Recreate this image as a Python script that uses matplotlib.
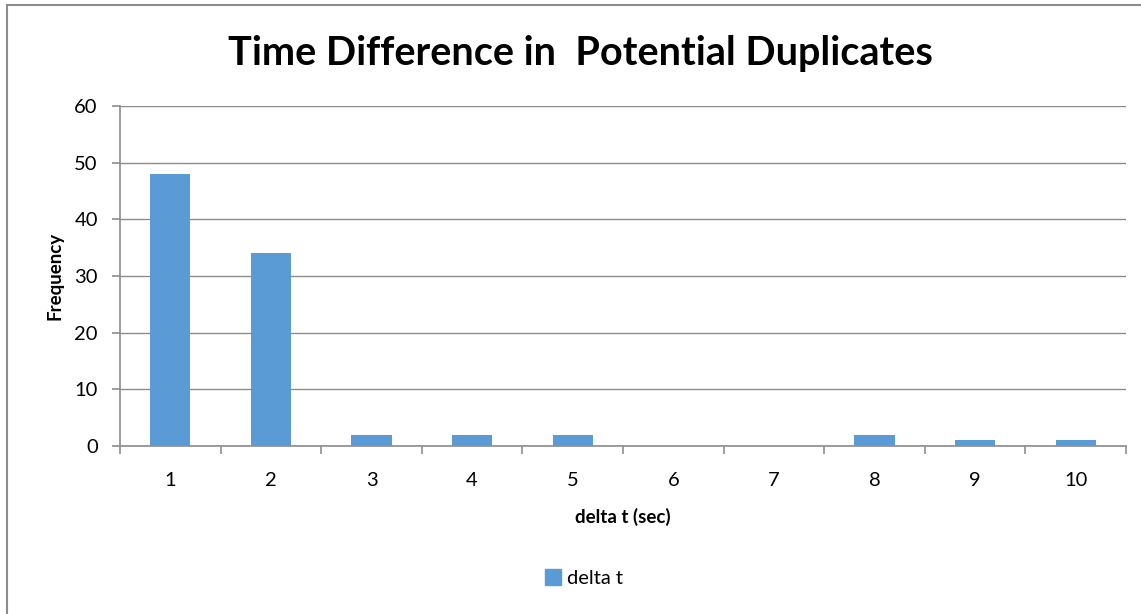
import numpy as np
import matplotlib.pyplot as plt
from matplotlib.patches import Rectangle

plt.rcParams['font.family'] = ['Lato', 'DejaVu Sans']

categories = [1, 2, 3, 4, 5, 6, 7, 8, 9, 10]
frequency = [48, 34, 2, 2, 2, 0, 0, 2, 1, 1]
yticks = [0, 10, 20, 30, 40, 50, 60]

bar_color = '#5B9BD5'
grid_color = '#8C8C8C'

fig = plt.figure(figsize=(11.41, 6.14), dpi=100)
ax = fig.add_axes([0.1052, 0.2736, 0.8817, 0.5538])

x = np.arange(len(categories))
ax.bar(x, frequency, width=0.4, color=bar_color, zorder=3)

ax.set_xlim(-0.5, len(categories) - 0.5)
ax.set_ylim(0, 60)
ax.set_yticks(yticks)
ax.yaxis.grid(True, color=grid_color, linewidth=1.0, zorder=0)

ax.set_xticks(x)
ax.set_xticklabels([str(c) for c in categories])
ax.set_xticks(np.arange(len(categories) + 1) - 0.5, minor=True)
ax.tick_params(axis='x', which='major', length=0, pad=19, labelsize=14.5)
ax.tick_params(axis='x', which='minor', length=6, width=1.2, color=grid_color)
ax.tick_params(axis='y', length=6, width=1.2, color=grid_color, pad=10, labelsize=14.5)

for side in ['top', 'right']:
    ax.spines[side].set_visible(False)
for side in ['left', 'bottom']:
    ax.spines[side].set_color(grid_color)
    ax.spines[side].set_linewidth(1.2)

fig.text(580 / 1141, 1 - 53 / 614, 'Time Difference in  Potential Duplicates',
         fontsize=28.5, fontweight='bold', ha='center', va='center')
ax.set_xlabel('delta t (sec)', fontsize=13.5, fontweight='bold', labelpad=13)
ax.set_ylabel('Frequency', fontsize=13.5, fontweight='bold', labelpad=8)

leg = ax.legend([Rectangle((0, 0), 1, 1, color=bar_color)], ['delta t'],
                loc='center', bbox_to_anchor=(584 / 1141, 1 - 578 / 614),
                bbox_transform=fig.transFigure, frameon=False, fontsize=14.5,
                handlelength=0.8, handleheight=0.8, handletextpad=0.3)

# chart area outline
fig.patches.append(Rectangle((7 / 1141, -0.1), 1.2, 1 - 5 / 614 + 0.1,
                             transform=fig.transFigure, fill=False,
                             edgecolor='#8C8C8C', linewidth=1.5))

fig.savefig('out.png', dpi=100)
